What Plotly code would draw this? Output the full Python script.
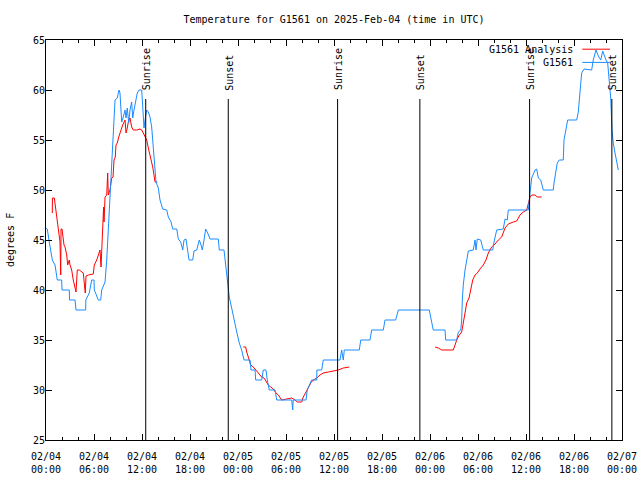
import pandas as pd
import plotly.graph_objects as go

BASE = pd.Timestamp("2025-02-04 00:00")

# Observations (G1561): hours since 2025-02-04 00:00 UTC, degrees F
obs_hours = [0.00, 0.16, 0.41, 0.79, 1.13, 1.41, 1.96, 2.00, 2.91, 2.95, 3.63, 3.75, 4.96, 4.98,
             5.41, 5.71, 6.00, 6.04, 6.54, 6.84, 6.96, 7.38, 7.59, 7.79, 8.00, 8.21, 8.41, 8.50,
             8.63, 8.91, 9.13, 9.25, 9.34, 9.46, 9.66, 9.88, 10.00, 10.16, 10.34, 10.50, 10.71,
             10.84, 11.00, 11.21, 11.41, 11.63, 11.96, 12.04, 12.16, 12.25, 12.38, 12.59, 12.79,
             13.00, 13.21, 13.34, 13.50, 13.63, 13.75, 14.04, 14.25, 14.59, 15.09, 15.29, 15.63,
             15.84, 16.34, 16.54, 16.84, 17.09, 17.25, 17.50, 17.71, 17.88, 18.34, 18.50, 18.84,
             19.16, 19.38, 19.54, 19.75, 19.96, 20.21, 20.50, 21.54, 21.66, 22.25, 22.38, 22.59,
             22.66, 22.91, 23.21, 23.50, 23.84, 24.16, 24.46, 24.75, 25.50, 25.63, 26.13, 26.21,
             26.96, 27.16, 27.50, 27.66, 27.91, 28.63, 28.84, 30.71, 30.84, 30.90, 32.50, 32.66,
             33.21, 33.84, 33.86, 34.46, 34.66, 36.75, 36.96, 37.16, 37.29, 39.16, 39.34, 40.50,
             40.71, 42.16, 42.38, 43.71, 44.04, 47.91, 48.21, 48.41, 49.88, 49.96, 51.34, 51.54,
             51.84, 51.96, 52.04, 52.16, 52.38, 52.59, 52.79, 53.41, 53.63, 53.75, 53.91, 54.34,
             54.66, 55.84, 56.00, 56.34, 57.16, 57.38, 57.66, 57.79, 60.29, 60.50, 60.71, 61.13,
             61.34, 61.54, 61.84, 62.16, 63.41, 63.50, 63.91, 64.16, 64.66, 64.75, 65.09, 65.21,
             66.34, 66.54, 66.75, 66.96, 67.25, 68.21, 68.41, 68.75, 69.04, 69.34, 69.59, 69.75,
             70.00, 70.21, 70.38, 70.59, 70.75, 70.91, 71.13, 71.41, 71.54]
obs_temp = [46.2, 46.1, 44.8, 43.0, 42.5, 41.0, 41.0, 40.0, 40.0, 39.0, 39.0, 38.0, 38.0, 39.0,
            39.7, 41.0, 41.0, 40.0, 39.0, 39.0, 40.0, 40.8, 43.0, 46.0, 48.5, 51.5, 54.3, 56.3,
            59.0, 59.2, 60.0, 59.7, 58.0, 56.8, 57.3, 58.0, 57.2, 58.2, 56.7, 58.0, 58.8,
            57.2, 58.0, 58.8, 59.7, 60.0, 60.0, 59.0, 57.0, 56.2, 57.0, 58.0, 57.8,
            57.3, 56.3, 55.0, 53.7, 52.3, 50.8, 50.2, 49.0, 48.1, 48.0, 47.3, 46.8,
            46.1, 46.1, 45.1, 44.8, 44.0, 45.0, 45.1, 44.0, 43.0, 43.0, 43.9, 44.0,
            45.0, 44.5, 44.0, 45.0, 46.1, 45.7, 45.1, 45.1, 44.0, 44.0, 43.0, 41.3,
            40.7, 39.3, 38.2, 37.0, 35.8, 34.7, 34.0, 33.0, 33.0, 32.0, 32.0, 31.0,
            31.0, 32.0, 32.0, 31.0, 30.0, 30.0, 29.0, 29.0, 28.0, 29.0, 29.0, 30.0,
            31.0, 31.0, 32.0, 32.0, 33.0, 33.0, 34.0, 33.0, 34.0, 34.0, 35.0, 35.0,
            36.0, 36.0, 37.0, 37.0, 38.0, 38.0, 36.7, 36.0, 36.0, 35.0, 35.0, 35.8,
            36.0, 37.0, 39.0, 40.5, 42.0, 43.0, 43.9, 44.0, 45.0, 44.0, 45.1, 45.0,
            44.0, 44.0, 44.8, 46.0, 46.1, 47.1, 47.0, 48.0, 48.0, 49.7, 51.2, 52.0,
            52.1, 51.2, 51.0, 50.0, 50.0, 50.7, 52.7, 53.0, 53.0, 55.0, 56.3, 57.0,
            57.0, 57.8, 59.8, 61.7, 62.1, 62.0, 63.0, 64.0, 63.4, 63.0, 63.9, 63.5,
            63.0, 62.7, 61.0, 59.2, 56.0, 54.7, 53.7, 52.3, 52.0]

# Analysis (G1561 Analysis): three separate runs
ana1_hours = [0.79, 0.80, 1.04, 1.25, 1.46, 1.66, 1.75, 1.84, 1.88, 2.00, 2.09, 2.25, 2.38, 2.59,
              2.71, 2.91, 3.00, 3.21, 3.41, 3.63, 3.75, 3.91, 4.16, 4.66, 4.79, 4.91, 5.00, 5.29,
              5.91, 6.04, 6.34, 6.54, 6.75, 6.88, 6.96, 7.09, 7.20, 7.25, 7.38, 7.59, 7.71, 7.79,
              8.00, 8.21, 8.38, 8.50, 8.66, 8.75, 8.91, 9.09, 9.34, 9.59, 9.88, 10.00, 10.16,
              10.29, 10.50, 10.71, 10.91, 11.34, 11.75, 11.96, 12.16, 12.38, 12.59, 12.79, 13.09,
              13.34, 13.50, 13.63, 13.91]
ana1_temp = [47.7, 49.2, 49.2, 48.0, 46.7, 45.7, 44.8, 41.5, 46.1, 46.1, 45.2, 44.5, 44.3, 43.5,
             42.5, 43.0, 42.5, 42.0, 41.0, 40.3, 39.8, 42.0, 42.0, 41.7, 40.3, 39.7, 41.4, 41.5,
             41.6, 42.5, 43.0, 43.5, 44.0, 42.3, 44.2, 45.7, 48.3, 46.8, 49.3, 49.5, 51.7, 49.5,
             50.0, 51.2, 51.3, 53.0, 53.3, 54.5, 54.7, 55.3, 56.0, 56.5, 57.0, 55.7, 56.2,
             56.8, 57.2, 56.3, 56.0, 56.0, 56.1, 56.0, 55.7, 55.4, 55.0, 54.2, 53.2,
             52.3, 51.5, 50.8, 50.8]
ana2_hours = [24.66, 24.96, 25.09, 25.29, 25.59, 25.91, 26.34, 26.66, 26.96, 27.25, 27.50, 27.79,
              28.09, 28.41, 28.75, 29.04, 29.46, 30.09, 30.71, 31.13, 31.41, 31.96, 32.16, 32.50,
              32.79, 33.09, 33.41, 33.84, 34.25, 34.66, 35.29, 35.91, 36.54, 37.16, 37.91]
ana2_temp = [34.3, 34.3, 33.8, 33.2, 32.5, 32.3, 31.9, 31.6, 31.3, 31.2, 30.8, 30.5,
             30.3, 30.1, 29.7, 29.5, 29.0, 29.1, 29.2, 29.0, 28.8, 28.8, 29.3, 29.8,
             30.3, 30.7, 31.0, 31.2, 31.5, 31.7, 31.8, 31.9, 32.0, 32.2, 32.3]
ana3_hours = [48.63, 49.04, 49.46, 50.91, 51.13, 51.34, 51.66, 51.96, 52.16, 52.38, 52.59, 52.88,
              53.09, 53.34, 53.63, 53.91, 54.25, 54.66, 55.00, 55.29, 55.71, 56.13, 56.54, 56.96,
              57.38, 57.79, 58.41, 58.84, 59.25, 59.66, 60.09, 60.29, 60.50, 60.71, 61.13, 61.41,
              61.96]
ana3_temp = [34.3, 34.2, 34.0, 34.0, 34.5, 35.0, 35.5, 35.8, 36.7, 37.7, 38.7, 39.2,
             40.0, 41.0, 41.5, 41.7, 42.1, 42.5, 43.0, 43.7, 44.3, 44.6, 45.0, 45.3,
             46.2, 46.6, 46.8, 46.9, 47.5, 47.8, 48.0, 48.7, 49.3, 49.5, 49.5, 49.3,
             49.3]

# Sun events
event_names = ["Sunrise", "Sunset", "Sunrise", "Sunset", "Sunrise", "Sunset"]
event_times = ["2025-02-04 12:28", "2025-02-04 22:47", "2025-02-05 12:27",
               "2025-02-05 22:44", "2025-02-06 12:27", "2025-02-06 22:44"]
event_line_bottom = 25
event_line_top = 59.1
event_label_y = 59.75

# Axis ticks
x_tick_times = ["2025-02-04 00:00", "2025-02-04 06:00", "2025-02-04 12:00", "2025-02-04 18:00",
                "2025-02-05 00:00", "2025-02-05 06:00", "2025-02-05 12:00", "2025-02-05 18:00",
                "2025-02-06 00:00", "2025-02-06 06:00", "2025-02-06 12:00", "2025-02-06 18:00",
                "2025-02-07 00:00"]
x_tick_text = ["02/04<br>00:00", "02/04<br>06:00", "02/04<br>12:00", "02/04<br>18:00",
               "02/05<br>00:00", "02/05<br>06:00", "02/05<br>12:00", "02/05<br>18:00",
               "02/06<br>00:00", "02/06<br>06:00", "02/06<br>12:00", "02/06<br>18:00",
               "02/07<br>00:00"]
y_ticks = [25, 30, 35, 40, 45, 50, 55, 60, 65]

FONT = "DejaVu Sans Mono"
RED = "#ff0000"
BLUE = "#1a8cff"


def to_time(hours):
    return [BASE + pd.Timedelta(hours=h) for h in hours]


ana_x = to_time(ana1_hours) + [None] + to_time(ana2_hours) + [None] + to_time(ana3_hours)
ana_y = ana1_temp + [None] + ana2_temp + [None] + ana3_temp

fig = go.Figure()
fig.add_trace(go.Scatter(x=ana_x, y=ana_y, mode="lines", name="G1561 Analysis",
                         line=dict(color=RED, width=1), connectgaps=False, showlegend=False))
fig.add_trace(go.Scatter(x=to_time(obs_hours), y=obs_temp, mode="lines", name="G1561",
                         line=dict(color=BLUE, width=1), showlegend=False))

for name, t in zip(event_names, event_times):
    ts = pd.Timestamp(t)
    fig.add_trace(go.Scatter(x=[ts, ts], y=[event_line_bottom, event_line_top], mode="lines",
                             line=dict(color="black", width=1), showlegend=False,
                             hoverinfo="skip"))
    fig.add_annotation(x=ts, y=event_label_y, text=name, textangle=-90, showarrow=False,
                       xanchor="center", yanchor="bottom", xshift=1,
                       font=dict(family=FONT, size=10, color="black"))

# Legend (gnuplot style: text left, sample right)
legend_rows = [("G1561 Analysis", RED, 0.977), ("G1561", BLUE, 0.944)]
for label, col, yy in legend_rows:
    fig.add_annotation(xref="paper", yref="paper", x=0.919, y=yy, text=label,
                       showarrow=False, xanchor="right", yanchor="middle",
                       font=dict(family=FONT, size=10, color="black"))
    fig.add_shape(type="line", xref="paper", yref="paper", x0=0.931, x1=0.979, y0=yy, y1=yy,
                  line=dict(color=col, width=1))

fig.add_annotation(xref="paper", yref="paper", x=-0.0625, y=0.5, text="degrees F",
                   textangle=-90, showarrow=False, xanchor="center", yanchor="middle",
                   font=dict(family=FONT, size=10, color="black"))

fig.update_layout(
    width=640, height=480,
    margin=dict(l=46, r=18, t=40, b=40),
    paper_bgcolor="white", plot_bgcolor="white",
    font=dict(family=FONT, size=10, color="black"),
    title=dict(text="Temperature for G1561 on 2025-Feb-04 (time in UTC)",
               x=0.5, xref="paper", xanchor="center", y=1 - 19 / 480, yanchor="middle",
               font=dict(family=FONT, size=10, color="black")),
    showlegend=False,
)
fig.update_xaxes(
    type="date", automargin=False,
    range=[pd.Timestamp(x_tick_times[0]), pd.Timestamp(x_tick_times[-1])],
    tickmode="array", tickvals=[pd.Timestamp(t) for t in x_tick_times], ticktext=x_tick_text,
    ticks="inside", ticklen=6, tickcolor="black", tickwidth=1, ticklabelstandoff=7,
    minor=dict(ticks="inside", ticklen=3, dtick=2 * 3600 * 1000, tickcolor="black",
               showgrid=False),
    showline=True, linecolor="black", linewidth=1, mirror="allticks",
    showgrid=False, zeroline=False,
)
fig.update_yaxes(
    range=[25, 65], automargin=False, tickmode="array", tickvals=y_ticks,
    ticktext=[str(v) for v in y_ticks],
    ticks="inside", ticklen=6, tickcolor="black", tickwidth=1, ticklabelstandoff=-2,
    showline=True, linecolor="black", linewidth=1, mirror="allticks",
    showgrid=False, zeroline=False,
)

fig.write_html("out.html", config={"displayModeBar": False},
               post_script="document.body.style.margin='0';")
